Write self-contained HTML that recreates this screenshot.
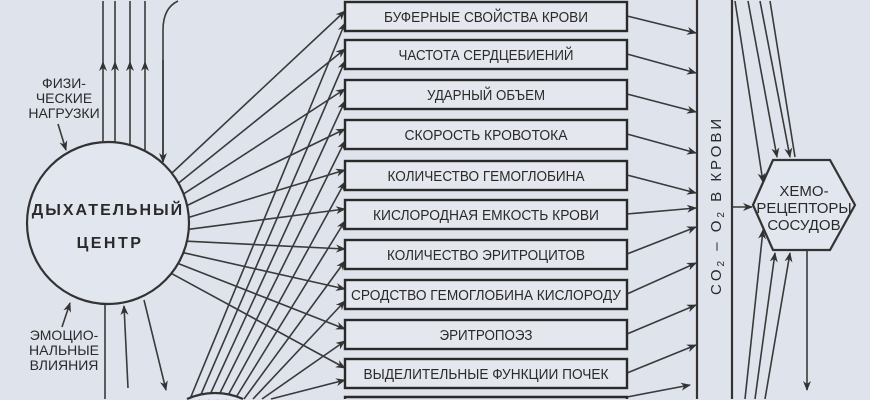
<!DOCTYPE html>
<html><head><meta charset="utf-8"><style>
html,body{margin:0;padding:0;background:#dfe3ec;width:870px;height:400px;overflow:hidden;}
svg{display:block;overflow:hidden;}
text{font-family:"Liberation Sans Narrow","Liberation Sans","DejaVu Sans",sans-serif;fill:#2a2a2a;}
</style></head><body>
<svg id="s" width="870" height="400" viewBox="0 0 870 400" xmlns="http://www.w3.org/2000/svg">
<defs>
<marker id="a" markerWidth="10" markerHeight="8" refX="9" refY="4" orient="auto" markerUnits="userSpaceOnUse">
<path d="M0,0 L10,4 L0,8 L3,4 z" fill="#333"/></marker>
</defs>
<g id="lines" stroke="#3a3a3a" stroke-width="1.6" fill="none"></g>
<circle cx="108" cy="223" r="81" fill="#e2e6ee" stroke="#333" stroke-width="2.2"/>
<text x="108" y="215" font-size="16" font-weight="bold" text-anchor="middle" letter-spacing="2" font-family="Liberation Sans">ДЫХАТЕЛЬНЫЙ</text>
<text x="110" y="248" font-size="16" font-weight="bold" text-anchor="middle" letter-spacing="2.5" font-family="Liberation Sans">ЦЕНТР</text>
<path d="M187,399 A68,68 0 0 1 243,399 Z" fill="#e2e6ee" stroke="none"/>
<path d="M187,399 A68,68 0 0 1 243,399" fill="none" stroke="#333" stroke-width="2.2"/>
<g font-size="14" text-anchor="middle">
<text x="64" y="88">ФИЗИ-</text><text x="64" y="103">ЧЕСКИЕ</text><text x="64" y="118">НАГРУЗКИ</text>
<text x="64" y="340">ЭМОЦИО-</text><text x="64" y="355">НАЛЬНЫЕ</text><text x="64" y="370">ВЛИЯНИЯ</text>
</g>
<g id="boxes"></g>
<path d="M345,399 L345,397 L627,397 L627,399" fill="none" stroke="#2a2a2a" stroke-width="2.4"/>
<line x1="697" y1="0" x2="697" y2="399" stroke="#333" stroke-width="2.2"/>
<line x1="732" y1="0" x2="732" y2="399" stroke="#333" stroke-width="2.2"/>
<text transform="translate(721,295) rotate(-90)" font-size="15" letter-spacing="3" font-family="Liberation Sans">CO<tspan font-size="10" dy="3">2</tspan><tspan dy="-3"> – O</tspan><tspan font-size="10" dy="3">2</tspan><tspan dy="-3">   В  КРОВИ</tspan></text>
<polygon points="753,205 773,160 830,160 855,205 830,250 773,250" fill="#e2e6ee" stroke="#333" stroke-width="2.2"/>
<g font-size="15" text-anchor="middle"><text x="804" y="196">ХЕМО-</text><text x="804" y="213">РЕЦЕПТОРЫ</text><text x="804" y="230">СОСУДОВ</text></g>
</svg>
<script>
var NS="http://www.w3.org/2000/svg";
var L=document.getElementById("lines"),B=document.getElementById("boxes");
function ln(x1,y1,x2,y2,m1,m2,par){var e=document.createElementNS(NS,"line");e.setAttribute("x1",x1);e.setAttribute("y1",y1);e.setAttribute("x2",x2);e.setAttribute("y2",y2);if(m2)e.setAttribute("marker-end","url(#a)");if(m1)e.setAttribute("marker-start","url(#a)");(par||L).appendChild(e);return e;}
function pth(d,m){var e=document.createElementNS(NS,"path");e.setAttribute("d",d);if(m)e.setAttribute("marker-end","url(#a)");L.appendChild(e);}
var tops=[0,38,78,118,159,198,238,278,318,357,396];
var texts=[["БУФЕРНЫЕ СВОЙСТВА КРОВИ",204],["ЧАСТОТА СЕРДЦЕБИЕНИЙ",175],["УДАРНЫЙ ОБЪЕМ",118],["СКОРОСТЬ КРОВОТОКА",163],["КОЛИЧЕСТВО ГЕМОГЛОБИНА",197],["КИСЛОРОДНАЯ ЕМКОСТЬ КРОВИ",226],["КОЛИЧЕСТВО ЭРИТРОЦИТОВ",198],["СРОДСТВО ГЕМОГЛОБИНА КИСЛОРОДУ",270],["ЭРИТРОПОЭЗ",93],["ВЫДЕЛИТЕЛЬНЫЕ ФУНКЦИИ ПОЧЕК",245],["",0]];
var ends=[33,73,112,153,193,208,227,263,305,345,383];
[103,115,130,145].forEach(function(x){ln(x,150,x,62,0,1);ln(x,62,x,1);});
pth("M163,162 L163,30 Q163,8 178,1",0);
ln(163,60,163,162,0,1);
ln(58,124,66,150,0,1);ln(62,327,70,303,0,1);
ln(105,303,105,399);
ln(128,388,124,306,0,1);ln(144,300,166,390,0,1);
for(var i=0;i<11;i++){
 var t=tops[i],cy=t+16;
 var ang=(-38+i*8.5)*Math.PI/180;
 var sx=108+81*Math.cos(ang),sy=223+81*Math.sin(ang);
 if(i<10) ln(sx,sy,345,cy-5,0,1);
 var bx=190+i*9,by=399;
 if(i<10) ln(bx,by,345,cy+7,0,1);
 if(i<10) ln(627,cy,696,ends[i],0,1);
 if(i<10){
 var r=document.createElementNS(NS,"rect");r.setAttribute("x",345);r.setAttribute("y",t+2);r.setAttribute("width",282);r.setAttribute("height",29);r.setAttribute("fill","#e4e7ee");r.setAttribute("stroke","#2a2a2a");r.setAttribute("stroke-width","2.4");B.appendChild(r);
 var tx=document.createElementNS(NS,"text");tx.setAttribute("x",486-texts[i][1]/2);tx.setAttribute("y",cy+6);tx.setAttribute("font-size","15");tx.setAttribute("textLength",texts[i][1]);tx.setAttribute("lengthAdjust","spacingAndGlyphs");tx.textContent=texts[i][0];B.appendChild(tx);}
}
ln(627,397,690,385,0,1);
ln(733,207,752,207,0,1);
ln(735,1,763,182,0,1);ln(748,1,777,157,0,1);ln(760,1,790,157,0,1);ln(770,1,795,157);
ln(745,399,763,230,0,1);ln(755,399,775,253,0,1);ln(765,399,790,253,0,1);
ln(807,250,807,390,0,1);
</script>
</body></html>
